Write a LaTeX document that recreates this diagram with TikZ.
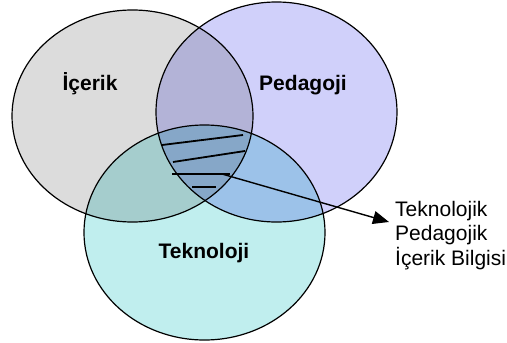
\documentclass[tikz,border=0pt]{standalone}
\usepackage{fontspec}
\setmainfont{Liberation Sans}
\usepackage{tikz}
\usetikzlibrary{arrows.meta}
\usetikzlibrary{positioning}
\definecolor{icgray}{RGB}{220,220,220}
\definecolor{pdblue}{RGB}{208,208,250}
\definecolor{tkcyan}{RGB}{192,238,238}
\tikzstyle{every node}+=[inner sep=0pt]
\tikzstyle{area} = [draw=black, line width=1.2pt]
\tikzstyle{title} = [font=\fontsize{21}{25}\selectfont\bfseries, anchor=base]
\tikzstyle{note} = [font=\fontsize{21}{24.5}\selectfont, align=left, anchor=north west]
\tikzstyle{hatch} = [draw, line width=1.8pt]
\tikzstyle{line} = [draw, line width=1.4pt, -{Triangle[length=16pt,width=13pt]}]

\begin{document}
\begin{tikzpicture}[x=1pt, y=-1pt]
            \useasboundingbox (0,0) rectangle (507,343);
            % Fill the three sets
            \begin{scope}[blend group=multiply]
              \fill [icgray] (132.5,116) ellipse [x radius=120.5, y radius=106];
              \fill [pdblue] (276.5,112) ellipse [x radius=120.5, y radius=110];
              \fill [tkcyan] (204.5,232.5) ellipse [x radius=120.5, y radius=107.5];
            \end{scope}
            \path [area] (132.5,116) ellipse [x radius=120.5, y radius=106];
            \path [area] (276.5,112) ellipse [x radius=120.5, y radius=110];
            \path [area] (204.5,232.5) ellipse [x radius=120.5, y radius=107.5];
            % Place nodes
            \node [title] (icerik) at (90,90) {İçerik};
            \node [title] (pedagoji) at (303,90) {Pedagoji};
            \node [title] (teknoloji) at (204,258) {Teknoloji};
            \node [note] (tpib) at (395,201) {Teknolojik\\Pedagojik\\İçerik Bilgisi};
            % Hatch the common part
            \path [hatch] (162,145) -- (243,135);
            \path [hatch] (173,162) -- (245,151);
            \path [hatch] (172,174) -- (230,174);
            \path [hatch] (192,187) -- (216,187);
            % Draw edges
            \coordinate (src) at (222,174);
            \coordinate (tip) at (389,222);
            \path [line] (src) -- (tip);
          \end{tikzpicture}
\end{document}
